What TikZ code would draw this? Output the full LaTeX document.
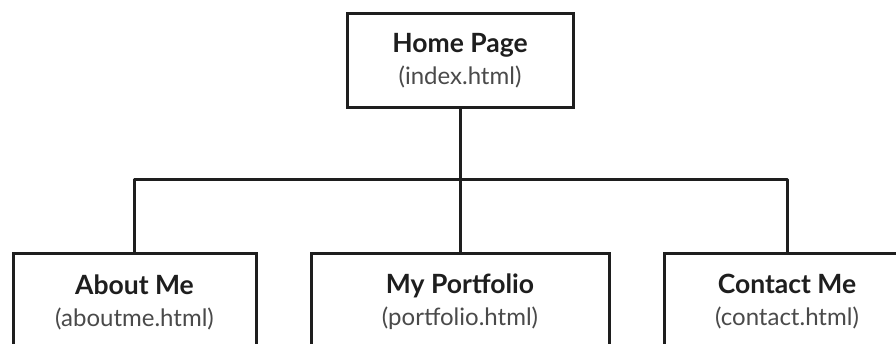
\documentclass[tikz,border=0pt]{standalone}
\usepackage{fontspec}
\setmainfont{Lato}
\definecolor{ink}{HTML}{1E1E1E}
\definecolor{subink}{HTML}{4A4A4A}
\tikzset{
  page/.style={draw=ink, line width=3pt, fill=white, align=center, inner sep=0pt,
    font=\fontsize{24}{32}\selectfont},
  link/.style={draw=ink, line width=3pt, line join=round}
}
\newcommand{\pagetitle}[2]{{\fontsize{26.5}{32}\selectfont\bfseries\color{ink}#1}\\{\color{subink}#2}}
\begin{document}
\begin{tikzpicture}[x=1pt,y=-1pt]
\useasboundingbox (0,0) rectangle (896,344);
\clip (0,0) rectangle (896,344);

\node[page, minimum width=226pt, minimum height=94pt] (home) at (460,61)
  {\pagetitle{Home Page}{(index.html)}};

\node[page, minimum width=243pt, minimum height=96pt] (about) at (134.5,302)
  {\pagetitle{About Me}{(aboutme.html)}};
\node[page, minimum width=298pt, minimum height=96pt] (portfolio) at (460,302)
  {\pagetitle{My Portfolio}{(portfolio.html)}};
\node[page, minimum width=246pt, minimum height=96pt] (contact) at (787,302)
  {\pagetitle{Contact Me}{(contact.html)}};

\coordinate (junction) at (460,180);

\draw[link] (home.south) -- (junction);
\draw[link] (about.north) |- (junction) -| (contact.north);
\draw[link] (junction) -- (portfolio.north);
\end{tikzpicture}
\end{document}
